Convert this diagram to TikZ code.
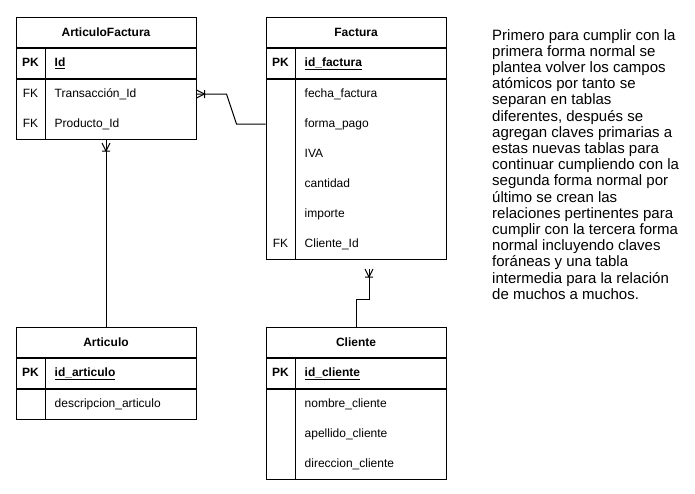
\documentclass[tikz,border=0pt]{standalone}
\usepackage{fontspec}
\setmainfont{Liberation Sans}
\usetikzlibrary{positioning}

\tikzset{
  tblrow/.style={draw, line width=1pt, minimum width=180pt, minimum height=30pt, inner sep=0pt},
  tblhead/.style={tblrow, font=\bfseries\fontsize{12}{14}\selectfont},
  pklbl/.style={font=\bfseries\fontsize{12}{14}\selectfont, inner sep=0pt, text height=9pt, text depth=3pt},
  fklbl/.style={font=\fontsize{12}{14}\selectfont, inner sep=0pt, text height=9pt, text depth=3pt},
  fieldlbl/.style={anchor=west, font=\fontsize{12}{14}\selectfont, inner sep=0pt, text height=9pt, text depth=3pt},
  pkfield/.style={fieldlbl, font=\bfseries\fontsize{12}{14}\selectfont},
  rel/.style={line width=1pt},
  desc/.style={anchor=north west, align=left, inner sep=0pt, font=\fontsize{15}{16.2}\selectfont},
  manymark/.pic={\draw[line width=1pt] (0pt,4pt) -- (8pt,0pt) -- (0pt,-4pt) (8pt,4pt) -- (8pt,-4pt);}
}

\begin{document}
\begin{tikzpicture}[x=1pt, y=-1pt]
  \useasboundingbox (0,0) rectangle (695,493);

  % ArticuloFactura
  \node[tblhead, anchor=north] (af-h) at (106,17) {ArticuloFactura};
  \node[tblrow, below=0pt of af-h] (af-pk) {};
  \node[tblrow, minimum height=60pt, below=0pt of af-pk] (af-b) {};
  \draw[rel] ([xshift=30pt]af-pk.north west) -- ([xshift=30pt]af-b.south west);
  \node[pklbl] at ([xshift=15pt]af-pk.west) {PK};
  \node[pkfield] (af-id) at ([xshift=39pt]af-pk.west) {\underline{Id}};
  \foreach \f [count=\i] in {Transacción\_Id, Producto\_Id} {
    \node[fklbl] at ([xshift=15pt, yshift={15pt-\i*30pt}]af-b.north west) {FK};
    \node[fieldlbl] (af-f\i) at ([xshift=39pt, yshift={15pt-\i*30pt}]af-b.north west) {\f};
  }

  % Factura
  \node[tblhead, anchor=north] (fa-h) at (356,17) {Factura};
  \node[tblrow, below=0pt of fa-h] (fa-pk) {};
  \node[tblrow, minimum height=180pt, below=0pt of fa-pk] (fa-b) {};
  \draw[rel] ([xshift=30pt]fa-pk.north west) -- ([xshift=30pt]fa-b.south west);
  \node[pklbl] at ([xshift=15pt]fa-pk.west) {PK};
  \node[pkfield] (fa-id) at ([xshift=39pt]fa-pk.west) {\underline{id\_factura}};
  \foreach \f [count=\i] in {fecha\_factura, forma\_pago, IVA, cantidad, importe, Cliente\_Id}
    \node[fieldlbl] (fa-f\i) at ([xshift=39pt, yshift={15pt-\i*30pt}]fa-b.north west) {\f};
  \node[fklbl] at ([xshift=15pt]fa-b.west |- fa-f6) {FK};

  % Articulo
  \node[tblhead, anchor=north] (ar-h) at (106,327) {Articulo};
  \node[tblrow, below=0pt of ar-h] (ar-pk) {};
  \node[tblrow, below=0pt of ar-pk] (ar-b) {};
  \draw[rel] ([xshift=30pt]ar-pk.north west) -- ([xshift=30pt]ar-b.south west);
  \node[pklbl] at ([xshift=15pt]ar-pk.west) {PK};
  \node[pkfield] (ar-id) at ([xshift=39pt]ar-pk.west) {\underline{id\_articulo}};
  \node[fieldlbl] (ar-f1) at ([xshift=39pt]ar-b.west) {descripcion\_articulo};

  % Cliente
  \node[tblhead, anchor=north] (cl-h) at (356,327) {Cliente};
  \node[tblrow, below=0pt of cl-h] (cl-pk) {};
  \node[tblrow, minimum height=90pt, below=0pt of cl-pk] (cl-b) {};
  \draw[rel] ([xshift=30pt]cl-pk.north west) -- ([xshift=30pt]cl-b.south west);
  \node[pklbl] at ([xshift=15pt]cl-pk.west) {PK};
  \node[pkfield] (cl-id) at ([xshift=39pt]cl-pk.west) {\underline{id\_cliente}};
  \foreach \f [count=\i] in {nombre\_cliente, apellido\_cliente, direccion\_cliente}
    \node[fieldlbl] (cl-f\i) at ([xshift=39pt, yshift={15pt-\i*30pt}]cl-b.north west) {\f};

  % relaciones
  \draw[rel] (af-b.east |- af-f1) -- ++(30,0) -- ++(10,30) -- (fa-b.west |- fa-f2);
  \pic at (af-b.east |- af-f1) {manymark};
  \draw[rel] (af-b.south) -- (ar-h.north);
  \pic[rotate=-90] at ([yshift=-3pt]af-b.south) {manymark};
  \coordinate (fa-end) at ([xshift=13pt, yshift=-9pt]fa-b.south);
  \draw[rel] (fa-end) -- ++(0,30) -| (cl-h.north);
  \pic[rotate=-90] at (fa-end) {manymark};

  % nota
  \node[desc] (note) at (492,29) {Primero para cumplir con la\\
    primera forma normal se\\
    plantea volver los campos\\
    atómicos por tanto se\\
    separan en tablas\\
    diferentes, después se\\
    agregan claves primarias a\\
    estas nuevas tablas para\\
    continuar cumpliendo con la\\
    segunda forma normal por\\
    último se crean las\\
    relaciones pertinentes para\\
    cumplir con la tercera forma\\
    normal incluyendo claves\\
    foráneas y una tabla\\
    intermedia para la relación\\
    de muchos a muchos.};
\end{tikzpicture}
\end{document}
